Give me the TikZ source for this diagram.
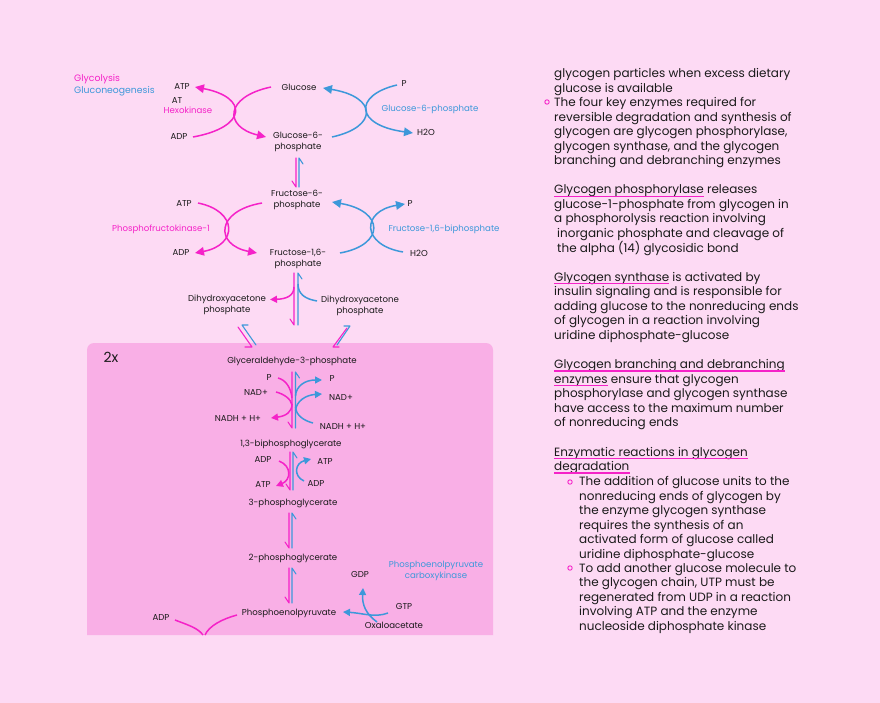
\documentclass[tikz,border=0pt]{standalone}
\usepackage{fontspec}
\setmainfont{Poppins}
\usetikzlibrary{arrows.meta,calc}
\definecolor{bg}{HTML}{FDDAF4}
\definecolor{boxc}{HTML}{F9AFE6}
\definecolor{mag}{HTML}{F522C8}
\definecolor{blu}{HTML}{3D98DA}
\definecolor{ink}{HTML}{1A1A1A}
\newcommand\eqpair[4]{%
  \draw[mag, harp] (#1,#3) -- (#1,#4) -- ++(-4,-6);
  \draw[blu, harp] (#2,#4) -- (#2,#3) -- ++(4,6);}
\begin{document}
\begin{tikzpicture}[x=1pt,y=-1pt,
  lab/.style={font=\fontsize{8.6}{11}\selectfont, text=ink, inner sep=0pt, align=center},
  mlab/.style={lab, text=mag},
  blab/.style={lab, text=blu},
  rt/.style={font=\fontsize{12}{14}\selectfont, text=ink, inner sep=0pt, anchor=base west},
  mline/.style={draw=mag, line width=1.5pt},
  bline/.style={draw=blu, line width=1.5pt},
  harp/.style={line width=1.1pt, line cap=round, line join=round},
  bigtip/.style={-{Triangle[length=9pt,width=8.5pt]}},
  smtip/.style={-{Triangle[length=7pt,width=7pt]}},
  ulin/.style={draw=mag, line width=1.1pt},
  bul/.style={draw=mag, line width=0.9pt},
]
\useasboundingbox (0,0) rectangle (880,703);
\fill[bg] (0,0) rectangle (880,703);
% 2x box
\fill[boxc] (87,635) [rounded corners=7pt] -- (87,343) -- (493,343) [sharp corners] -- (493,635) -- cycle;
\node[font=\fontsize{14}{16}\selectfont, text=ink, inner sep=0pt] (twox) at (111,357) {2x};

% legend
\node[mlab, font=\fontsize{9.3}{11}\selectfont, anchor=west] (lg1) at (74,79) {Glycolysis};
\node[blab, font=\fontsize{9.3}{11}\selectfont, anchor=west] (lg2) at (74,91) {Gluconeogenesis};

% ---------- step 1
\node[lab] (glc) at (299,87) {Glucose};
\node[lab] (atp1) at (182,87) {ATP};
\node[lab] (at1) at (177,101) {AT};
\node[mlab] (hex) at (188,110) {Hexokinase};
\node[lab] (adp1) at (179,137) {ADP};
\node[lab] (g6p) at (298,142) {Glucose-6-\\phosphate};
\node[lab] (p1) at (404,84) {P};
\node[blab] (g6pase) at (430,109) {Glucose-6-phosphate};
\node[lab] (h2o1) at (426,132) {H2O};
\draw[mline, bigtip] (271,87) .. controls (224,97) and (224,127) .. (266,137);
\draw[mline, bigtip] (193,137) .. controls (248,127) and (248,97) .. (195,87);
\draw[bline, bigtip] (332,137) .. controls (378,127) and (378,97) .. (323,88);
\draw[bline, bigtip] (397,85) .. controls (354,95) and (354,125) .. (413,133);
\eqpair{296}{299}{158}{187}

% ---------- step 3
\node[lab] (f6p) at (297,199.5) {Fructose-6-\\phosphate};
\node[lab] (atp2) at (184,204) {ATP};
\node[mlab] (pfk) at (161,229) {Phosphofructokinase-1};
\node[lab] (adp2) at (181,253) {ADP};
\node[lab] (f16) at (298,259) {Fructose-1,6-\\phosphate};
\node[lab] (p2) at (410,204) {P};
\node[blab] (fbp) at (444,229) {Fructose-1,6-biphosphate};
\node[lab] (h2o2) at (419,253) {H2O};
\draw[mline, bigtip] (262,203) .. controls (215,211) and (215,245) .. (257,253);
\draw[mline, bigtip] (198,203) .. controls (238,211) and (238,245) .. (195,253);
\draw[bline, bigtip] (340,253) .. controls (385,245) and (385,211) .. (332,202);
\draw[bline, bigtip] (403,252) .. controls (361,245) and (361,211) .. (405,204);

% ---------- aldolase
\eqpair{294}{298}{273}{325}
\node[lab] (dhap1) at (227,305) {Dihydroxyacetone\\phosphate};
\node[lab] (dhap2) at (360,305.5) {Dihydroxyacetone\\phosphate};
\draw[mline, smtip] (294,287) .. controls (294,296) and (286,299) .. (270,299.5);
\draw[bline] (317,301) .. controls (305,299) and (298,294) .. (298,284);
% isomerase pairs
\draw[mag, harp] (238,327) -- (252,347) -- ++(-7,0);
\draw[blu, harp] (256,345) -- (242,325) -- ++(6,0);
\draw[mag, harp] (347,328) -- (333,347) -- ++(6,0);
\draw[blu, harp] (337,345) -- (350,326) -- ++(-6,0);

% ---------- G3P dehydrogenase
\node[lab] (g3p) at (292,361) {Glyceraldehyde-3-phosphate};
\eqpair{292}{295.5}{372}{428}
\node[lab] (p3) at (269,378) {P};
\node[lab] (nad1) at (256,392) {NAD+};
\node[lab] (nadh1) at (238,418) {NADH + H+};
\node[lab] (p4) at (332,379) {P};
\node[lab] (nad2) at (341,397) {NAD+};
\node[lab] (nadh2) at (343,426) {NADH + H+};
\draw[mline] (278,378) .. controls (286,380) and (291,388) .. (292,398);
\draw[mline] (276,392) .. controls (284,394) and (291,399) .. (292,405);
\draw[mline, smtip] (292,404) .. controls (292,412) and (286,416) .. (271,418);
\draw[bline, smtip] (295.5,396) .. controls (296,386) and (305,380) .. (322,380);
\draw[bline, smtip] (295.5,411) .. controls (296,401) and (306,395) .. (322,394);
\draw[bline] (313,423) .. controls (305,421) and (296,416) .. (295.5,407);

% ---------- PGK
\node[lab] (bpg) at (291,444) {1,3-biphosphoglycerate};
\eqpair{290}{293}{452}{490}
\node[lab] (adp3) at (263,460) {ADP};
\node[lab] (atp3) at (325,461) {ATP};
\node[lab] (atp4) at (263,484) {ATP};
\node[lab] (adp4) at (316,483) {ADP};
\draw[mline, smtip] (279,461) .. controls (292,466) and (291,480) .. (276,486);
\draw[bline, smtip] (304,481) .. controls (293,476) and (295,463) .. (311,459);

% ---------- mutase, enolase
\node[lab] (pg3) at (293,503) {3-phosphoglycerate};
\eqpair{289}{292}{513}{548}
\node[lab] (pg2) at (293,558) {2-phosphoglycerate};
\eqpair{289}{292}{568}{603}
\node[lab] (pep) at (289,613) {Phosphoenolpyruvate};

% ---------- PEPCK
\node[lab] (gdp) at (360,574) {GDP};
\node[blab] (pepck) at (436,570.5) {Phosphoenolpyruvate\\carboxykinase};
\node[lab] (gtp) at (404,606) {GTP};
\node[lab] (oaa) at (394,625) {Oxaloacetate};
\draw[bline, smtip] (388,613) .. controls (375,618) and (362,613) .. (343,612);
\draw[bline, smtip] (377,622) .. controls (366,614) and (362,605) .. (363,588);

% ---------- pyruvate kinase (cut off)
\node[lab] (adp5) at (161,617) {ADP};
\draw[mline] (175,620) .. controls (188,625) and (198,628) .. (203,635);
\draw[mline] (237,615) .. controls (222,619) and (209,626) .. (205,635);

% ---------- right text
\node[rt] (t1) at (554,78) {glycogen particles when excess dietary};
\node[rt] (t2) at (554,92.5) {glucose is available};
\draw[bul] (547,102) circle (2.2);
\node[rt] (t3) at (554,107) {The four key enzymes required for};
\node[rt] (t4) at (554,121.5) {reversible degradation and synthesis of};
\node[rt] (t5) at (554,136) {glycogen are glycogen phosphorylase,};
\node[rt] (t6) at (554,150.5) {glycogen synthase, and the glycogen};
\node[rt] (t7) at (554,165) {branching and debranching enzymes};

\node[rt] (t8) at (554,194) {Glycogen phosphorylase releases};
\node[rt] (u8) at (t8.base west) {\phantom{Glycogen phosphorylase}};
\draw[ulin] ([yshift=-2.5pt]u8.base west) -- ([yshift=-2.5pt]u8.base east);
\node[rt] (t9) at (554,208.5) {glucose-1-phosphate from glycogen in};
\node[rt] (t10) at (554,223) {a phosphorolysis reaction involving};
\node[rt] (t11) at (557,237.5) {inorganic phosphate and cleavage of};
\node[rt] (t12) at (557,252) {the alpha (14) glycosidic bond};

\node[rt] (t13) at (554,281) {Glycogen synthase is activated by};
\node[rt] (u13) at (t13.base west) {\phantom{Glycogen synthase}};
\draw[ulin] ([yshift=-2.5pt]u13.base west) -- ([yshift=-2.5pt]u13.base east);
\node[rt] (t14) at (554,295.5) {insulin signaling and is responsible for};
\node[rt] (t15) at (554,310) {adding glucose to the nonreducing ends};
\node[rt] (t16) at (554,324.5) {of glycogen in a reaction involving};
\node[rt] (t17) at (554,339) {uridine diphosphate-glucose};

\node[rt] (t18) at (554,368.5) {Glycogen branching and debranching};
\node[rt] (u18) at (t18.base west) {\phantom{Glycogen branching and debranching}};
\draw[ulin] ([yshift=-2.5pt]u18.base west) -- ([yshift=-2.5pt]u18.base east);
\node[rt] (t19) at (554,383) {enzymes ensure that glycogen};
\node[rt] (u19) at (t19.base west) {\phantom{enzymes}};
\draw[ulin] ([yshift=-2.5pt]u19.base west) -- ([yshift=-2.5pt]u19.base east);
\node[rt] (t20) at (554,397.5) {phosphorylase and glycogen synthase};
\node[rt] (t21) at (554,412) {have access to the maximum number};
\node[rt] (t22) at (554,426.5) {of nonreducing ends};

\node[rt] (t23) at (554,456) {Enzymatic reactions in glycogen};
\node[rt] (u23) at (t23.base west) {\phantom{Enzymatic reactions in glycogen}};
\draw[ulin] ([yshift=-2.5pt]u23.base west) -- ([yshift=-2.5pt]u23.base east);
\node[rt] (t24) at (554,470.5) {degradation};
\draw[ulin] ([yshift=-2.5pt]t24.base west) -- ([yshift=-2.5pt]t24.base east);
\draw[bul] (570,482) circle (2.2);
\node[rt] (t25) at (579,485.5) {The addition of glucose units to the};
\node[rt] (t26) at (579,500) {nonreducing ends of glycogen by};
\node[rt] (t27) at (579,514.5) {the enzyme glycogen synthase};
\node[rt] (t28) at (579,529) {requires the synthesis of an};
\node[rt] (t29) at (579,543.5) {activated form of glucose called};
\node[rt] (t30) at (579,558) {uridine diphosphate-glucose};
\draw[bul] (570,568) circle (2.2);
\node[rt] (t31) at (579,572) {To add another glucose molecule to};
\node[rt] (t32) at (579,586.5) {the glycogen chain, UTP must be};
\node[rt] (t33) at (579,601) {regenerated from UDP in a reaction};
\node[rt] (t34) at (579,615.5) {involving ATP and the enzyme};
\node[rt] (t35) at (579,630) {nucleoside diphosphate kinase};
\end{tikzpicture}
\end{document}
